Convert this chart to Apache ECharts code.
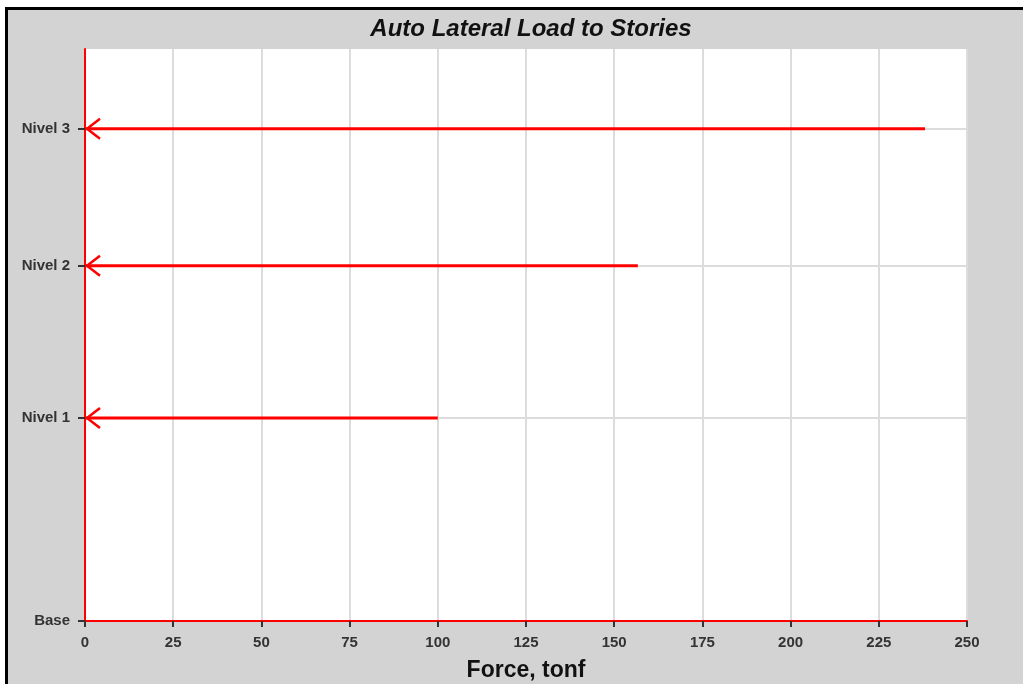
<!DOCTYPE html>
<html>
<head>
<meta charset="utf-8">
<script src="https://cdn.jsdelivr.net/npm/echarts@6/dist/echarts.min.js"></script>
<style>
html,body{margin:0;padding:0;background:#fff;}
#chart{width:1023px;height:684px;}
</style>
</head>
<body>
<div id="chart"></div>
<script>
// Data
const storyNames = ['Base', 'Nivel 1', 'Nivel 2', 'Nivel 3'];
const storyElevations = [0, 4, 7, 9.7];
const storyForces = [0, 100, 156.7, 238.1];
const xTicks = [0, 25, 50, 75, 100, 125, 150, 175, 200, 225, 250];
const yMax = 11.27;

const arrowData = [];
for (let i = 1; i < storyNames.length; i++) {
  arrowData.push([storyForces[i], storyElevations[i]]);
}

const chart = echarts.init(document.getElementById('chart'), null, {renderer: 'canvas'});
const FONT = '"Liberation Sans", Arial, sans-serif';

chart.setOption({
  backgroundColor: '#d3d3d3',
  animation: false,
  graphic: [
    {type: 'rect', shape: {x: 0, y: 0, width: 1023, height: 7}, style: {fill: '#fff'}, silent: true},
    {type: 'rect', shape: {x: 0, y: 0, width: 5, height: 684}, style: {fill: '#fff'}, silent: true},
    {type: 'rect', shape: {x: 5, y: 7, width: 1018, height: 3}, style: {fill: '#000'}, silent: true},
    {type: 'rect', shape: {x: 5, y: 7, width: 3, height: 677}, style: {fill: '#000'}, silent: true}
  ],
  title: {
    text: 'Auto Lateral Load to Stories',
    left: 526,
    textAlign: 'center',
    top: 12,
    textStyle: {fontFamily: FONT, fontSize: 24, fontWeight: 'bold', fontStyle: 'italic', color: '#111'}
  },
  grid: {
    left: 85, right: 56, top: 49, bottom: 63,
    outerBoundsMode: 'none',
    containLabel: false,
    show: true, backgroundColor: '#fff', borderWidth: 0
  },
  xAxis: {
    type: 'value',
    min: 0, max: 250, interval: 25,
    name: 'Force, tonf',
    nameLocation: 'middle',
    nameGap: 38,
    nameTextStyle: {fontFamily: FONT, fontSize: 23, fontWeight: 'bold', color: '#111'},
    axisLine: {show: true, lineStyle: {color: '#ff0000', width: 2}},
    axisTick: {show: true, length: 6, lineStyle: {color: '#333', width: 2}},
    axisLabel: {fontFamily: FONT, fontSize: 15, fontWeight: 'bold', color: '#333', margin: 14,
      formatter: v => xTicks.includes(v) ? String(v) : ''},
    splitLine: {show: true, lineStyle: {color: '#dcdcdc', width: 2}}
  },
  yAxis: {
    type: 'value',
    min: 0, max: yMax,
    axisLine: {show: true, lineStyle: {color: '#ff0000', width: 2}},
    axisTick: {show: true, length: 7, customValues: storyElevations, lineStyle: {color: '#333', width: 2}},
    axisLabel: {
      customValues: storyElevations,
      fontFamily: FONT, fontSize: 15, fontWeight: 'bold', color: '#333', margin: 15,
      formatter: v => {
        const i = storyElevations.findIndex(e => Math.abs(e - v) < 1e-6);
        return i >= 0 ? storyNames[i] : '';
      }
    },
    splitLine: {show: true, lineStyle: {color: '#dcdcdc', width: 2}}
  },
  series: [{
    type: 'custom',
    data: arrowData,
    clip: false,
    renderItem: function (params, api) {
      const tail = api.coord([api.value(0), api.value(1)]);
      const tip = api.coord([0, api.value(1)]);
      return {
        type: 'group',
        children: [
          {type: 'line', shape: {x1: tail[0], y1: tail[1], x2: tip[0] + 1, y2: tip[1]},
            style: {stroke: '#ff0000', lineWidth: 3}},
          {type: 'polyline', shape: {points: [[tip[0] + 15, tip[1] - 10], [tip[0] + 2, tip[1]], [tip[0] + 15, tip[1] + 10]]},
            style: {stroke: '#ff0000', lineWidth: 2.5, fill: null}}
        ]
      };
    }
  }]
});
</script>
</body>
</html>
